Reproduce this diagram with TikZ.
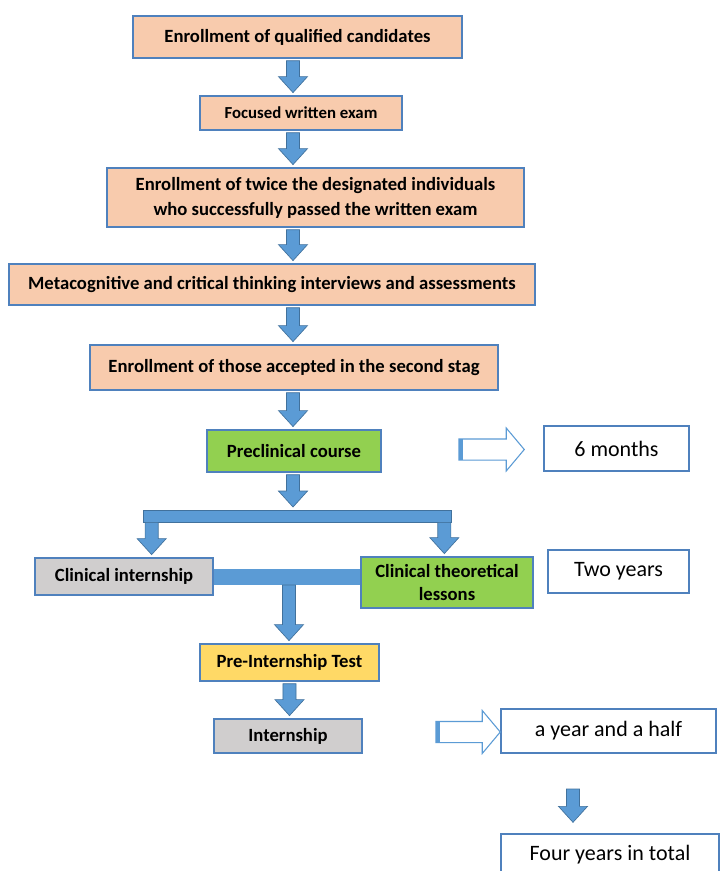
\documentclass[tikz,border=0pt]{standalone}
\usepackage{fontspec}
\setmainfont{Carlito}
\usetikzlibrary{calc}
\definecolor{peach}{HTML}{F8CBAD}
\definecolor{boxedge}{HTML}{4F81BD}
\definecolor{arrfill}{HTML}{5B9BD5}
\definecolor{arredge}{HTML}{41719C}
\definecolor{lgreen}{HTML}{92D050}
\definecolor{lgray}{HTML}{D0CECE}
\definecolor{lyellow}{HTML}{FFD966}
\newcommand\mybox[7]{\node[#2, minimum width={(#5-#3)*0.75pt}, minimum height={(#6-#4)*0.75pt}] (#1) at ({(#3+#5)/2},{(#4+#6)/2}) {#7};}
\tikzset{
  basebox/.style={draw=boxedge, line width=1.1pt, inner sep=0pt, align=center, text=black},
  boldtext/.style={font=\bfseries\fontsize{14}{18.75}\selectfont},
  peachbox/.style={basebox, boldtext, fill=peach},
  greenbox/.style={basebox, fill=lgreen, font=\bfseries\fontsize{14}{17.25}\selectfont},
  graybox/.style={basebox, boldtext, fill=lgray},
  yellowbox/.style={basebox, boldtext, fill=lyellow},
  durbox/.style={basebox, fill=white, font=\fontsize{16.5}{20}\selectfont},
  barnode/.style={fill=arrfill, draw=arredge, line width=0.5pt, inner sep=0pt},
  connbar/.style={draw=arrfill, line width=12pt},
  downarrow/.style={fill=arrfill, draw=arredge, line width=0.5pt,
    to path={let \p1=(\tikztostart), \p2=(\tikztotarget) in
      (\x1-4.9pt,\y1-#1) -- (\x1-4.9pt,\y2+14pt) -- (\x1-10.9pt,\y2+14pt) -- (\x1,\y2+2pt)
      -- (\x1+10.9pt,\y2+14pt) -- (\x1+4.9pt,\y2+14pt) -- (\x1+4.9pt,\y1-#1) -- cycle}},
  downarrow/.default=1.5pt,
  hollowarrow/.style={fill=white, draw=arrfill, line width=0.8pt,
    to path={let \p1=(\tikztostart), \p2=(\tikztotarget) in
      (\x1,\y1+7.9pt) -- (\x2-13.5pt,\y1+7.9pt) -- (\x2-13.5pt,\y1+16.1pt) -- (\x2,\y1)
      -- (\x2-13.5pt,\y1-16.1pt) -- (\x2-13.5pt,\y1-7.9pt) -- (\x1,\y1-7.9pt) -- cycle}}
}
\begin{document}
\begin{tikzpicture}[x=0.75pt,y=-0.75pt]
\useasboundingbox (0,0) rectangle (721,871);
\clip (0,0) rectangle (721,871);
\fill[white] (0,0) rectangle (721,871);

% boxes
\mybox{b1}{peachbox}{133}{16}{462}{58}{Enrollment of qualified candidates}
\mybox{b2}{peachbox,font=\bfseries\fontsize{12.6}{15}\selectfont}{200}{96}{402}{130}{Focused written exam}
\mybox{b3}{peachbox}{107}{168}{524}{227}{Enrollment of twice the designated individuals\\who successfully passed the written exam}
\mybox{b4}{peachbox}{9}{264}{535}{305}{Metacognitive and critical thinking interviews and assessments}
\mybox{b5}{peachbox}{90}{345}{498}{390}{Enrollment of those accepted in the second stag}
\mybox{pc}{greenbox}{207}{430}{381}{472}{Preclinical course}
\mybox{m6}{durbox}{544}{426}{689}{471}{6 months}
\mybox{ci}{graybox}{35}{558}{213}{595}{Clinical internship}
\mybox{ct}{greenbox}{361}{557}{533}{608}{Clinical theoretical\\lessons}
\mybox{ty}{durbox}{548}{550}{689}{593}{Two years}
\mybox{pit}{yellowbox}{200}{644}{379}{681}{Pre-Internship Test}
\mybox{intern}{graybox}{214}{719}{362}{753}{Internship}
\mybox{yh}{durbox}{501}{709}{716}{753}{a year and a half}
\mybox{fy}{durbox}{501}{834}{719}{876}{Four years in total}

% splitting bar
\node[barnode, minimum width=308*0.75pt, minimum height=12*0.75pt] (bar) at (297,516) {};

% main spine arrows
\coordinate (sp) at (293,0);
\draw[downarrow] (sp |- b1.south) to (sp |- b2.north);
\draw[downarrow] (sp |- b2.south) to (sp |- b3.north);
\draw[downarrow] (sp |- b3.south) to (sp |- b4.north);
\draw[downarrow] (sp |- b4.south) to (sp |- b5.north);
\draw[downarrow] (sp |- b5.south) to (sp |- pc.north);
\draw[downarrow] (sp |- pc.south) to (sp |- bar.north);
\draw[downarrow=0pt] ([xshift=6.75pt]bar.south west) to (ci.north);
\draw[downarrow=0pt] ([xshift=-5.25pt]bar.south east) to (ct.north);

% joining bar and lower arrows
\draw[connbar] (ci.east) -- (ci.east -| ct.west);
\coordinate (jn) at (289,583);
\draw[downarrow] (jn) to (pit.north);
\draw[downarrow] (pit.south) to (intern.north);
\coordinate (ta) at (573,789);
\coordinate (tb) at (573,825);
\draw[downarrow=0pt] (ta) to (tb);

% hollow arrows
\coordinate (h1) at (459,449.5);
\draw[hollowarrow] (h1) to ([xshift=-14.25pt]m6.west);
\fill[arrfill] ($(h1)+(0,-10.5)$) rectangle ($(h1)+(4,10.5)$);
\coordinate (h2) at (436,732);
\draw[hollowarrow] (h2) to (yh.west);
\fill[arrfill] ($(h2)+(0,-10.5)$) rectangle ($(h2)+(4,10.5)$);
\end{tikzpicture}
\end{document}
